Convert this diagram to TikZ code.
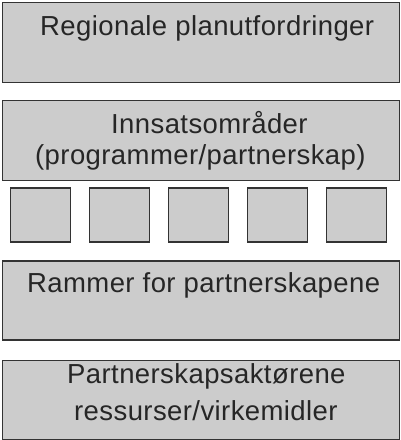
\documentclass[tikz,border=0pt]{standalone}
\usepackage{fontspec}
\setmainfont{Liberation Sans}[LetterSpace=1.5]
\begin{document}
\begin{tikzpicture}[x=1pt,y=-1pt,
  panel/.style={draw=black!80,fill=black!20,line width=1.6pt,inner sep=0pt,anchor=north west},
  lbl/.style={inner sep=0pt,anchor=base west,text=black!85,font=\fontsize{27.5}{32}\selectfont}]
\useasboundingbox (0,0) rectangle (400,440);
\node[panel,minimum width=397pt,minimum height=80pt] (b1) at (1.5,1.5) {};
\node[panel,minimum width=397pt,minimum height=80pt] (b2) at (1.5,99.5) {};
\foreach \i/\x in {1/9.5,2/88.5,3/167.5,4/246.5,5/325.5}
  \node[panel,minimum width=60pt,minimum height=54pt] (s\i) at (\x,187) {};
\node[panel,minimum width=397pt,minimum height=79pt] (b3) at (1.5,260) {};
\node[panel,minimum width=397pt,minimum height=79pt] (b4) at (1.5,359.5) {};
\node[lbl] (t1) at (40,35) {Regionale planutfordringer};
\node[lbl] (t2) at (111,133) {Innsatsområder};
\node[lbl] (t3) at (35,164) {(programmer/partnerskap)};
\node[lbl] (t4) at (27,292) {Rammer for partnerskapene};
\node[lbl] (t5) at (67,383) {Partnerskapsaktørene};
\node[lbl] (t6) at (74,420) {ressurser/virkemidler};
\end{tikzpicture}
\end{document}
